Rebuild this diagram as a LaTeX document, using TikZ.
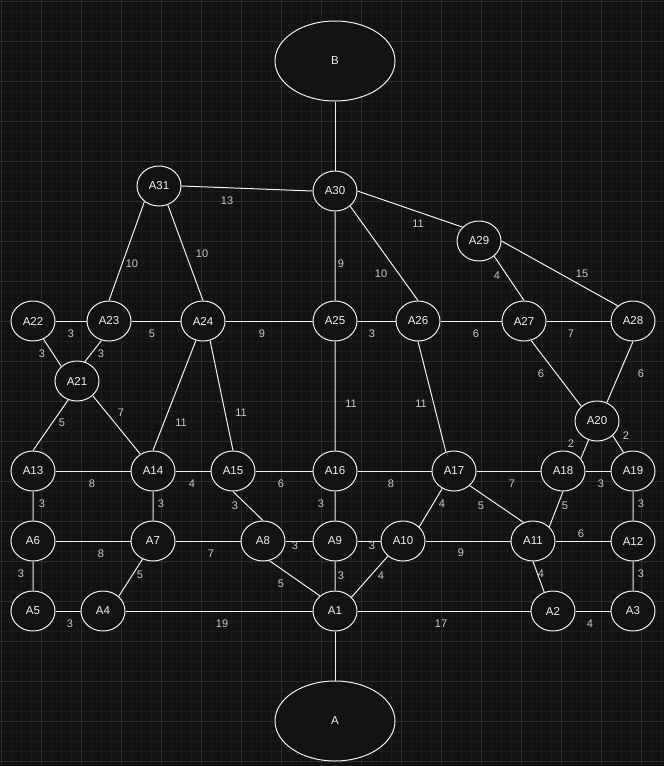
\documentclass[tikz,border=0pt]{standalone}
\usepackage{fontspec}
\setmainfont{Liberation Sans}
\usetikzlibrary{shapes.geometric}

\definecolor{bgdark}{HTML}{121212}
\definecolor{gridmajor}{HTML}{2C2C2C}
\definecolor{gridminor}{HTML}{1B1B1B}
\definecolor{edgewhite}{HTML}{F0F0F0}
\definecolor{wtgray}{HTML}{C8C8C8}

\begin{document}
\begin{tikzpicture}[x = 1pt, y = -1pt,
  vertex/.style = {ellipse, draw = edgewhite, line width = 1pt, fill = bgdark,
    text = edgewhite, minimum width = 44pt, minimum height = 40pt, inner sep = 0pt,
    font = \fontsize{11.5}{13}\selectfont},
  endpoint/.style = {vertex, minimum width = 120pt, minimum height = 80pt},
  wt/.style = {text = wtgray, inner sep = 1pt, font = \fontsize{11}{13}\selectfont},
  link/.style = {draw = edgewhite, line width = 1pt}]

  % Background and grid
  \useasboundingbox (0,0) rectangle (664,766);
  \fill[bgdark] (0,0) rectangle (664,766);
  \foreach \g in {1,11,...,661} \draw[gridminor, line width = 1pt] (\g,0) -- (\g,766);
  \foreach \g in {1,11,...,761} \draw[gridminor, line width = 1pt] (0,\g) -- (664,\g);
  \foreach \g in {1,41,...,661} \draw[gridmajor, line width = 1pt] (\g,0) -- (\g,766);
  \foreach \g in {1,41,...,761} \draw[gridmajor, line width = 1pt] (0,\g) -- (664,\g);

  % Source and sink
  \node[endpoint] (B) at (335,61) {B};
  \node[endpoint] (A) at (335,721) {A};

  % Upper nodes
  \node[vertex] (A31) at (159,186) {A31};
  \node[vertex] (A30) at (335,191) {A30};
  \node[vertex] (A29) at (479,241) {A29};
  \node[vertex] (A22) at (33,321) {A22};
  \node[vertex] (A23) at (109,321) {A23};
  \node[vertex] (A24) at (203,321) {A24};
  \node[vertex] (A25) at (335,321) {A25};
  \node[vertex] (A26) at (418,321) {A26};
  \node[vertex] (A27) at (524,321) {A27};
  \node[vertex] (A28) at (633,321) {A28};
  \node[vertex] (A21) at (77,381) {A21};
  \node[vertex] (A20) at (597,421) {A20};

  % Middle rows
  \node[vertex] (A13) at (33,471) {A13};
  \node[vertex] (A14) at (153,471) {A14};
  \node[vertex] (A15) at (233,471) {A15};
  \node[vertex] (A16) at (335,471) {A16};
  \node[vertex] (A17) at (454,471) {A17};
  \node[vertex] (A18) at (563,471) {A18};
  \node[vertex] (A19) at (633,471) {A19};
  \node[vertex] (A6) at (33,541) {A6};
  \node[vertex] (A7) at (153,541) {A7};
  \node[vertex] (A8) at (263,541) {A8};
  \node[vertex] (A9) at (335,541) {A9};
  \node[vertex] (A10) at (403,541) {A10};
  \node[vertex] (A11) at (533,541) {A11};
  \node[vertex] (A12) at (633,541) {A12};

  % Bottom row
  \node[vertex] (A5) at (33,611) {A5};
  \node[vertex] (A4) at (103,611) {A4};
  \node[vertex] (A1) at (335,611) {A1};
  \node[vertex] (A2) at (553,611) {A2};
  \node[vertex] (A3) at (633,611) {A3};

  % Edges
  \draw[link] (B) -- (A30) (A1) -- (A);
  \draw[link] (A31.east) -- (A30.west) (A31.-133) -- (A23.north) (A31.-65) -- (A24.north);
  \draw[link] (A30) -- (A25) (A30.-45) -- (A26.north) (A30.east) -- (A29.140);
  \draw[link] (A29.-45) -- (A27.north) (A29.east) -- (A28.135);
  \draw[link] (A22) -- (A23) (A23) -- (A24) (A24) -- (A25) (A25) -- (A26) (A26) -- (A27) (A27) -- (A28);
  \draw[link] (A22.-60) -- (A21.137) (A23.-111) -- (A21.68) (A21.-115) -- (A13.north) (A21.-43) -- (A14.127);
  \draw[link] (A24.-110) -- (A14.north) (A24.-70) -- (A15.north) (A25) -- (A16) (A26.south) -- (A17.113);
  \draw[link] (A27.-70) -- (A20.137) (A28.south) -- (A20.62) (A20.-114) -- (A18.35) (A20.-43) -- (A19.117);
  \draw[link] (A13) -- (A14) (A14) -- (A15) (A15) -- (A16) (A16) -- (A17) (A17) -- (A18) (A18) -- (A19);
  \draw[link] (A13) -- (A6) (A14) -- (A7) (A15.south) -- (A8.north) (A16) -- (A9);
  \draw[link] (A17.-124) -- (A10.41) (A17.-43) -- (A11.117) (A18.south) -- (A11.41) (A19) -- (A12);
  \draw[link] (A6) -- (A7) (A7) -- (A8) (A8) -- (A9) (A9) -- (A10) (A10) -- (A11) (A11) -- (A12);
  \draw[link] (A6) -- (A5) (A7.-120) -- (A4.43) (A8.-72) -- (A1.135) (A9) -- (A1) (A10.-135) -- (A1.40) (A11.south) -- (A2.115) (A12) -- (A3);
  \draw[link] (A5) -- (A4) (A4) -- (A1) (A1) -- (A2) (A2) -- (A3);

  % Weights
  \node[wt] (w31-30) at (227,201) {13};
  \node[wt] (w31-23) at (132,264) {10};
  \node[wt] (w31-24) at (202,254) {10};
  \node[wt] (w30-25) at (341,264) {9};
  \node[wt] (w30-26) at (381,274) {10};
  \node[wt] (w30-29) at (418,224) {11};
  \node[wt] (w29-27) at (497,276) {4};
  \node[wt] (w29-28) at (582,274) {15};
  \node[wt] (w22-23) at (71,334) {3};
  \node[wt] (w23-24) at (152,334) {5};
  \node[wt] (w24-25) at (262,334) {9};
  \node[wt] (w25-26) at (372,334) {3};
  \node[wt] (w26-27) at (476,334) {6};
  \node[wt] (w27-28) at (571,334) {7};
  \node[wt] (w22-21) at (42,354) {3};
  \node[wt] (w23-21) at (101,354) {3};
  \node[wt] (w21-13) at (62,423) {5};
  \node[wt] (w21-14) at (121,413) {7};
  \node[wt] (w24-14) at (181,423) {11};
  \node[wt] (w24-15) at (241,413) {11};
  \node[wt] (w25-16) at (351,404) {11};
  \node[wt] (w26-17) at (421,404) {11};
  \node[wt] (w27-20) at (541,374) {6};
  \node[wt] (w28-20) at (641,374) {6};
  \node[wt] (w20-18) at (571,444) {2};
  \node[wt] (w20-19) at (626,436) {2};
  \node[wt] (w13-14) at (92,484) {8};
  \node[wt] (w14-15) at (192,484) {4};
  \node[wt] (w15-16) at (281,484) {6};
  \node[wt] (w16-17) at (391,484) {8};
  \node[wt] (w17-18) at (512,484) {7};
  \node[wt] (w18-19) at (601,484) {3};
  \node[wt] (w13-6) at (42,504) {3};
  \node[wt] (w14-7) at (161,504) {3};
  \node[wt] (w15-8) at (235,506) {3};
  \node[wt] (w16-9) at (321,504) {3};
  \node[wt] (w17-10) at (442,504) {4};
  \node[wt] (w17-11) at (481,506) {5};
  \node[wt] (w18-11) at (565,506) {5};
  \node[wt] (w19-12) at (641,504) {3};
  \node[wt] (w6-7) at (101,554) {8};
  \node[wt] (w7-8) at (211,554) {7};
  \node[wt] (w8-9) at (295,546) {3};
  \node[wt] (w9-10) at (372,546) {3};
  \node[wt] (w10-11) at (461,553) {9};
  \node[wt] (w11-12) at (581,534) {6};
  \node[wt] (w6-5) at (21,574) {3};
  \node[wt] (w7-4) at (140,575) {5};
  \node[wt] (w8-1) at (281,584) {5};
  \node[wt] (w9-1) at (341,576) {3};
  \node[wt] (w10-1) at (381,576) {4};
  \node[wt] (w11-2) at (541,574) {4};
  \node[wt] (w12-3) at (641,574) {3};
  \node[wt] (w5-4) at (70,624) {3};
  \node[wt] (w4-1) at (222,624) {19};
  \node[wt] (w1-2) at (441,624) {17};
  \node[wt] (w2-3) at (590,624) {4};

\end{tikzpicture}
\end{document}
